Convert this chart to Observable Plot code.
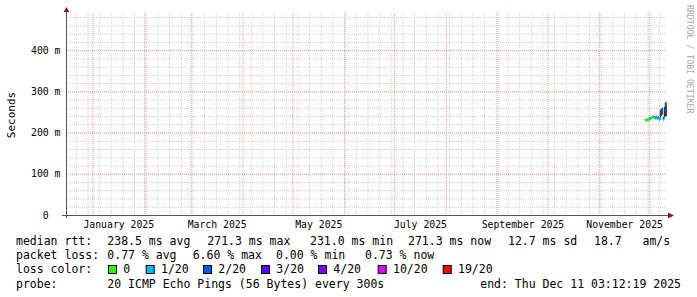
<!DOCTYPE html>
<html><head><meta charset="utf-8">
<script src="https://cdn.jsdelivr.net/npm/d3@7"></script>
<script src="https://cdn.jsdelivr.net/npm/@observablehq/plot@0.6"></script>
<style>
html,body{margin:0;padding:0;background:#fff;}
#chart{width:697px;height:297px;overflow:hidden;}
#chart svg{display:block;background:#fff;}
</style></head><body><div id="chart"></div>
<script>
// ---------- data ----------
const endTime = "2025-12-11T03:12:19Z";
const spanDays = 360;
const yMax = 490;
const yMajorTicks = [0, 100, 200, 300, 400];
const yMinorStep = 20;
const monthLabels = ["2025-01", "2025-03", "2025-05", "2025-07", "2025-09", "2025-11"];

const sampleTimes = [
  "2025-11-28T10:00Z","2025-11-29T00:24Z","2025-11-29T14:48Z","2025-11-30T05:12Z",
  "2025-11-30T19:36Z","2025-12-01T10:00Z","2025-12-02T00:24Z","2025-12-02T14:48Z",
  "2025-12-03T05:12Z","2025-12-03T19:36Z","2025-12-04T10:00Z","2025-12-05T00:24Z",
  "2025-12-05T14:48Z","2025-12-06T05:12Z","2025-12-06T19:36Z","2025-12-07T10:00Z",
  "2025-12-08T00:24Z","2025-12-08T14:48Z","2025-12-09T05:12Z","2025-12-09T19:36Z",
  "2025-12-10T10:00Z","2025-12-11T00:24Z"
];
const medianMs = [231,231,232,231,234,235,236,238,239,237,236,238,235,237,233,236,250,255,233,236,255,271];
const lossCount = [0,0,0,0,1,1,0,0,0,1,1,1,1,1,1,1,2,2,1,1,2,1];
const smokeLowMs = [230,230,231,230,232,233,234,236,236,235,234,235,233,234,231,232,240,244,231,234,238,240];
const smokeHighMs = [232,233,233,233,236,237,238,240,241,240,239,241,238,240,236,254,258,260,238,262,272,275];

const lossLevels = [0, 1, 2, 3, 4, 10, 19];
const lossLabels = ["0", "1/20", "2/20", "3/20", "4/20", "10/20", "19/20"];
const lossColors = ["#26ff00", "#00b8ff", "#0059ff", "#5e00ff", "#7e00ff", "#dd00ff", "#ff0000"];

const rttLabel = "median rtt:";
const rttStats = ["238.5 ms avg", "271.3 ms max", "231.0 ms min", "271.3 ms now", "12.7 ms sd", "18.7   am/s"];
const lossLabel = "packet loss:";
const lossStats = ["0.77 % avg", "6.60 % max", "0.00 % min", "0.73 % now"];
const colorLabel = "loss color:";
const probeLabel = "probe:";
const probeText = "20 ICMP Echo Pings (56 Bytes) every 300s";
const endText = "end: Thu Dec 11 03:12:19 2025";
const unitLabel = "Seconds";
const watermark = "RRDTOOL / TOBI OETIKER";

// ---------- derived ----------
const end = new Date(endTime);
const start = new Date(+end - spanDays * 864e5);
const samples = sampleTimes.map((t, i) => ({
  t: new Date(t),
  t2: i + 1 < sampleTimes.length ? new Date(sampleTimes[i + 1]) : new Date(+new Date(t) + 14.4 * 36e5),
  med: medianMs[i], loss: lossCount[i], lo: smokeLowMs[i], hi: smokeHighMs[i]
}));
const lossColor = (n) => { let c = lossColors[0]; lossLevels.forEach((l, i) => { if (n >= l) c = lossColors[i]; }); return c; };
const monthStarts = d3.utcMonths(start, end);
const weekStarts = d3.utcSundays(start, end);
const minorY = d3.range(yMinorStep, yMax, yMinorStep);
const labelPos = monthLabels.map(m => { const a = new Date(m + "-01T00:00Z"); const b = d3.utcMonth.offset(a, 1); return new Date((+a + +b) / 2); });

const FONT = "DejaVu Sans Mono, monospace";
const axisDark = "#555";
const arrowRed = "#8c1c1c";
const minorGrid = "#cfcfcf";
const majorGrid = "#ee9c9c";

// legend and decoration layout (pixels)
function decorations(index, scales, values, dim) {
  const g = d3.create("svg:g").attr("font-family", FONT).attr("fill", "#000").attr("text-anchor", "start");
  const L = dim.marginLeft, R = dim.width - dim.marginRight, B = dim.height - dim.marginBottom, T = dim.marginTop;
  // axes
  g.append("line").attr("x1", L + 0.5).attr("x2", L + 0.5).attr("y1", B + 3).attr("y2", T - 3).attr("stroke", axisDark);
  g.append("line").attr("x1", L - 4).attr("x2", R + 2).attr("y1", B + 0.5).attr("y2", B + 0.5).attr("stroke", axisDark);
  g.append("path").attr("d", `M${L - 2.5},${T - 1}L${L + 3.5},${T - 1}L${L + 0.5},${T - 6}Z`).attr("fill", arrowRed);
  g.append("path").attr("d", `M${R + 2},${B - 2.5}L${R + 2},${B + 3.5}L${R + 8},${B + 0.5}Z`).attr("fill", arrowRed);
  // unit label
  g.append("text").attr("transform", `translate(14.5,${(T + B) / 2 + 1}) rotate(-90)`).attr("text-anchor", "middle")
    .attr("font-size", 11).text(unitLabel);
  // watermark
  g.append("text").attr("transform", `translate(686.5,5) rotate(90)`).attr("text-anchor", "start")
    .attr("font-size", 8.2).attr("fill", "#a8a8a8")
    .style("white-space", "pre").text(watermark);
  // legend
  const fs = 11.5, x0 = 16, col = 107.3;
  const base = [245, 259, 273, 287.5];
  const txt = (x, y, s, anchor = "start") => g.append("text").attr("x", x).attr("y", y).attr("font-size", fs)
    .attr("text-anchor", anchor).style("white-space", "pre").text(s);
  txt(x0, base[0], rttLabel);
  const rttX = [col, 207.3, 310, 408, 508, 594];
  rttStats.forEach((s, i) => txt(rttX[i], base[0], s));
  txt(x0, base[1], lossLabel);
  const lossX = [col, 192.7, 276, 365];
  lossStats.forEach((s, i) => txt(lossX[i], base[1], s));
  txt(x0, base[2], colorLabel);
  const boxX = [108, 145.7, 203, 261, 318, 377.7, 442.7];
  lossLabels.forEach((s, i) => {
    g.append("rect").attr("x", boxX[i] + 0.5).attr("y", 265.5).attr("width", 8).attr("height", 8)
      .attr("fill", lossColors[i]).attr("stroke", "#000");
    txt(boxX[i] + 15.3, base[2], s);
  });
  txt(x0, base[3], probeLabel);
  txt(col, base[3], probeText);
  txt(681, base[3], endText, "end");
  return g.node();
}

const plot = Plot.plot({
  width: 697, height: 297,
  marginLeft: 66, marginRight: 31, marginTop: 13, marginBottom: 82,
  style: {fontFamily: FONT, background: "#fff", color: "#000"},
  x: {type: "utc", domain: [start, end]},
  y: {domain: [0, yMax]},
  marks: [
    Plot.ruleY(minorY, {stroke: minorGrid, strokeDasharray: "1,1"}),
    Plot.ruleX(weekStarts, {stroke: minorGrid, strokeDasharray: "1,1"}),
    Plot.ruleY(yMajorTicks.slice(1), {stroke: majorGrid, strokeDasharray: "1,1"}),
    Plot.ruleX(monthStarts, {stroke: majorGrid, strokeDasharray: "1,1"}),
    Plot.ruleX(samples, {x: "t", y1: "lo", y2: "hi", stroke: "#111", strokeWidth: 1}),
    Plot.ruleY(samples, {x1: "t", x2: "t2", y: "med", stroke: d => lossColor(d.loss), strokeWidth: 3}),
    Plot.axisY({ticks: yMajorTicks, tickSize: 0, tickPadding: 6, fontSize: 9.8, label: null,
      tickFormat: d => d === 0 ? "0\u00a0\u00a0" : `${d}\u00a0m`}),
    Plot.axisX({ticks: labelPos, tickSize: 0, tickPadding: 6, fontSize: 9.8, label: null,
      tickFormat: d3.utcFormat("%B %Y")}),
    decorations
  ]
});
document.getElementById("chart").appendChild(plot);
</script></body></html>
